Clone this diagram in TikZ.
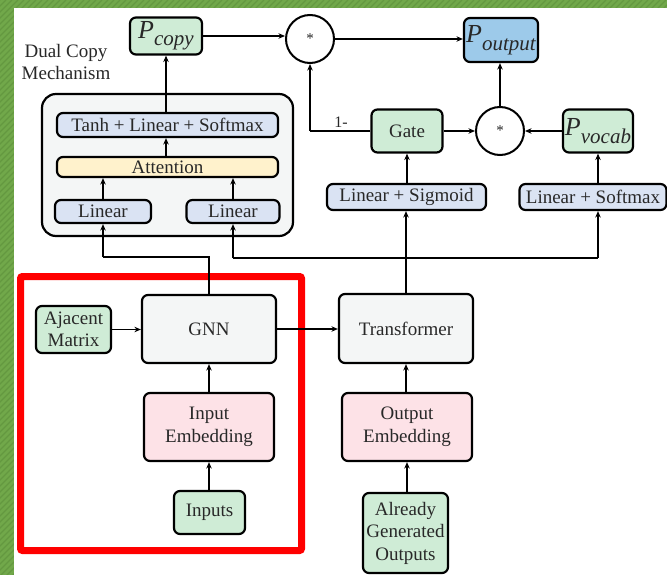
\documentclass[tikz,border=0pt]{standalone}
\usepackage{fontspec}
\setmainfont{Liberation Serif}
\usetikzlibrary{arrows.meta,shapes.geometric}

\definecolor{bggreen}{RGB}{113,168,74}
\definecolor{stripegreen}{RGB}{100,152,64}
\definecolor{boxgreen}{RGB}{207,236,214}
\definecolor{boxgray}{RGB}{244,246,246}
\definecolor{boxblue}{RGB}{218,227,243}
\definecolor{boxyellow}{RGB}{255,242,204}
\definecolor{boxpink}{RGB}{253,226,231}
\definecolor{boxsky}{RGB}{157,202,234}
\definecolor{inkgray}{RGB}{40,40,40}

% italic probability symbol with a subscript
\newcommand{\probsym}[1]{{\fontsize{26}{26}\selectfont\itshape P}\raisebox{-7.5pt}{\fontsize{21}{21}\selectfont\itshape #1}}

\tikzset{
  blk/.style={draw=black, line width=2.2pt, rounded corners=6pt, align=center,
    text=inkgray, inner sep=0pt, font=\fontsize{19}{22.5}\selectfont},
  greenbox/.style={blk, fill=boxgreen},
  graybox/.style={blk, fill=boxgray},
  bluebox/.style={blk, fill=boxblue},
  yellowbox/.style={blk, fill=boxyellow},
  pinkbox/.style={blk, fill=boxpink},
  skybox/.style={blk, fill=boxsky},
  mulnode/.style={circle, draw=black, line width=2pt, fill=white, minimum size=48pt,
    inner sep=0pt, text=inkgray, font=\fontsize{15}{15}\selectfont},
  arr/.style={line width=1.8pt, -{Stealth[length=6.5pt,width=5.5pt]}},
  ln/.style={line width=1.8pt},
}

\begin{document}
\begin{tikzpicture}[x=1pt,y=-1pt]
  \useasboundingbox (0,0) rectangle (667,575);

  % framed page background
  \fill[bggreen] (0,0) rectangle (667,575);
  \begin{scope}
    \clip (0,0) rectangle (667,8) (0,0) rectangle (14,575);
    \foreach \k in {0,6,...,1260} {
      \draw[stripegreen, line width=1.2pt] (\k-600,600) -- (\k,0);
    }
  \end{scope}
  \fill[white] (14,8) rectangle (667,575);

  % dual copy mechanism container
  \node[blk, fill=boxgray, minimum width=251pt, minimum height=142pt, rounded corners=14pt]
    (dcm) at (167.5,165) {};
  \node[text=inkgray, align=center, font=\fontsize{19}{22.5}\selectfont] (dcmlabel) at (66,62)
    {Dual Copy\\Mechanism};

  \node[bluebox, minimum width=221pt, minimum height=24pt] (tanh) at (167.5,125) {Tanh + Linear + Softmax};
  \node[yellowbox, minimum width=221pt, minimum height=20pt] (attn) at (167.5,167) {Attention};
  \node[bluebox, minimum width=96pt, minimum height=23pt] (lin1) at (103,211.5) {Linear};
  \node[bluebox, minimum width=93pt, minimum height=23pt] (lin2) at (233,211.5) {Linear};

  % output side
  \node[greenbox, minimum width=72pt, minimum height=37pt] (pcopy) at (166,36) {\probsym{copy}};
  \node[mulnode] (mul1) at (310,39) {*};
  \node[skybox, minimum width=74pt, minimum height=44pt] (pout) at (501,40) {\probsym{output}};
  \node[greenbox, minimum width=71pt, minimum height=43pt] (gate) at (407,131) {Gate};
  \node[mulnode] (mul2) at (500,131) {*};
  \node[greenbox, minimum width=70pt, minimum height=43pt] (pvocab) at (598,131) {\probsym{vocab}};
  \node[bluebox, minimum width=159pt, minimum height=26pt] (linsig) at (406.5,197) {Linear + Sigmoid};
  \node[bluebox, minimum width=147pt, minimum height=26pt] (linsoft) at (593,197) {Linear + Softmax};

  % encoders
  \node[greenbox, minimum width=75pt, minimum height=47pt] (adj) at (73.5,329.5) {Ajacent\\Matrix};
  \node[graybox, minimum width=134pt, minimum height=68pt] (gnn) at (209,329) {GNN};
  \node[pinkbox, minimum width=130pt, minimum height=68pt] (inemb) at (209,427) {Input\\Embedding};
  \node[greenbox, minimum width=71pt, minimum height=43pt] (inputs) at (209.5,512.5) {Inputs};
  \node[graybox, minimum width=134pt, minimum height=69pt] (trans) at (406,328.5) {Transformer};
  \node[pinkbox, minimum width=130pt, minimum height=68pt] (outemb) at (407,427) {Output\\Embedding};
  \node[greenbox, minimum width=85pt, minimum height=80pt] (agen) at (405.5,533) {Already\\Generated\\Outputs};

  % highlight frame
  \draw[red, line width=7pt, rounded corners=2pt] (20.5,276.5) rectangle (301.5,550.5);

  % routing points
  \coordinate (gnnup) at (209,257);
  \coordinate (gnnleft) at (103,257);
  \coordinate (busL) at (233,258);
  \coordinate (busR) at (598,258);
  \coordinate (gatebend) at (310,131);

  % inside the copy mechanism
  \draw[arr] (lin1.north) -- (lin1.north |- attn.south);
  \draw[arr] (lin2.north) -- (lin2.north |- attn.south);
  \draw[arr] (attn.north -| pcopy) -- (tanh.south -| pcopy);
  \draw[arr] (tanh.north -| pcopy) -- (pcopy.south);

  % top combination
  \draw[arr] (pcopy.east) -- (pcopy.east -| mul1.west);
  \draw[arr] (mul1.east) -- (mul1.east -| pout.west);
  \draw[ln] (gate.west) -- (gatebend);
  \draw[arr] (gatebend) -- (mul1.south);
  \node[text=inkgray, font=\fontsize{16}{16}\selectfont] (oneminus) at (341,122) {1-};
  \draw[arr] (gate.east) -- (mul2.west);
  \draw[arr] (pvocab.west) -- (mul2.east);
  \draw[arr] (mul2.north) -- (pout.south -| mul2);
  \draw[arr] (linsig.north -| gate) -- (gate.south);
  \draw[arr] (linsoft.north -| pvocab) -- (pvocab.south);

  % encoder outputs
  \draw[ln] (gnn.north) -- (gnnup) -- (gnnleft);
  \draw[arr] (gnnleft) -- (lin1.south);
  \draw[ln] (trans.north) -- (trans.north |- busR);
  \draw[ln] (busL) -- (busR);
  \draw[arr] (busL) -- (lin2.south);
  \draw[arr] (trans.north |- busR) -- (linsig.south -| trans.north);
  \draw[arr] (busR) -- (linsoft.south -| busR);

  % encoder inputs
  \draw[arr] (adj.east) -- (adj.east -| gnn.west);
  \draw[arr] (gnn.east) -- (gnn.east -| trans.west);
  \draw[arr] (inemb.north) -- (gnn.south);
  \draw[arr] (inputs.north -| inemb) -- (inemb.south);
  \draw[arr] (outemb.north -| trans) -- (trans.south);
  \draw[arr] (agen.north -| outemb) -- (outemb.south);
\end{tikzpicture}
\end{document}
